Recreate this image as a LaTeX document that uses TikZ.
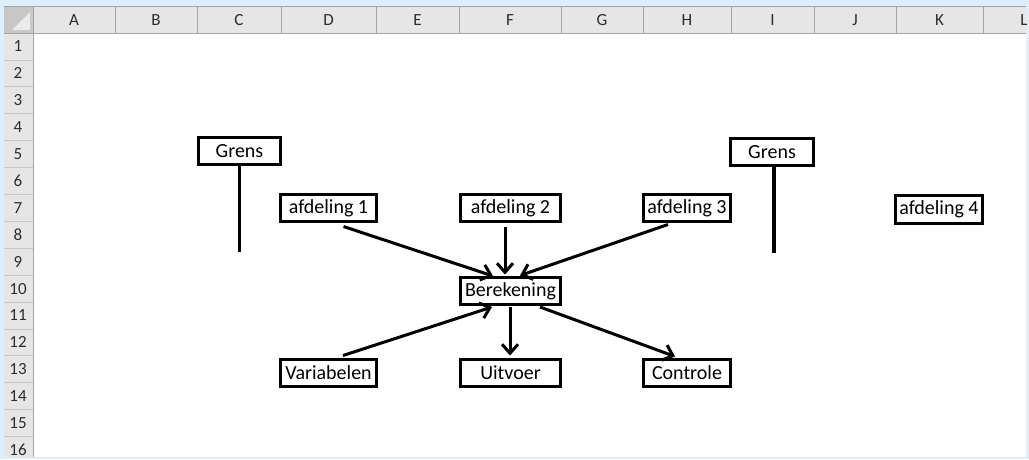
\documentclass[tikz,border=0pt]{standalone}
\usepackage{fontspec}
\setmainfont{Carlito}
\usetikzlibrary{arrows.meta,calc}
\definecolor{outerblue}{RGB}{221,239,251}
\definecolor{hdrfill}{RGB}{230,230,230}
\definecolor{hdrline}{RGB}{165,165,165}
\definecolor{rowline}{RGB}{200,200,200}
\definecolor{hdrtext}{RGB}{45,45,45}
\begin{document}
\begin{tikzpicture}[x=1pt,y=-1pt,
  hdrtxt/.style={text=hdrtext,font=\fontsize{17}{18}\selectfont,inner sep=0pt},
  box/.style={draw=black,line width=3.6pt,fill=white,inner sep=0pt,outer sep=0pt,
    minimum height=27pt,font=\fontsize{20}{22}\selectfont},
  arr/.style={line width=3pt,-{Straight Barb[length=9pt,width=16pt]}},
  bar/.style={line width=3.2pt}]
\useasboundingbox (0,0) rectangle (1029,459);
\fill[outerblue] (0,0) rectangle (1029,459);
\begin{scope}
\clip (4,6) rectangle (1026,457);
\fill[white] (4,6) rectangle (1026,457);
\fill[hdrfill] (4,6) rectangle (1026,33);
\fill[hdrfill] (4,33) rectangle (33,457);
\fill[black!22] (4,6) rectangle (33,33);
\fill[black!8] (30,12) -- (30,30) -- (12,30) -- cycle;
\foreach \x in {33,115,197,281,376,459,561,643,731,814,896,983}
  \draw[hdrline,line width=0.8pt] (\x,7) -- (\x,33);
\foreach \l/\x in {A/74,B/156,C/239,D/328.5,E/417.5,F/510,G/602,H/687,I/772.5,J/855,K/939.5,L/1024}
  \node[hdrtxt] at (\x,20) {\l};
\foreach \i in {1,...,16}{
  \node[hdrtxt] at (18,{33+(\i-0.5)*26.9}) {\i};
  \draw[rowline,line width=0.8pt] (4,{33+\i*26.9}) -- (33,{33+\i*26.9});
}
\draw[hdrline,line width=0.8pt] (4,33) -- (1026,33);
\draw[hdrline,line width=0.8pt] (33,6) -- (33,457);
\draw[hdrline,line width=0.6pt] (4,6.4) -- (1026,6.4);
\end{scope}

% nodes
\node[box,minimum width=82pt] (grensL) at (239.5,151) {Grens};
\node[box,minimum width=83pt] (grensR) at (772,152) {Grens};
\node[box,minimum width=96pt] (afd1) at (328.5,208) {afdeling 1};
\node[box,minimum width=100pt] (afd2) at (510.5,208) {afdeling 2};
\node[box,minimum width=87pt] (afd3) at (687,208) {afdeling 3};
\node[box,minimum width=87pt,minimum height=28pt] (afd4) at (939,209.5) {afdeling 4};
\node[box,minimum width=100pt] (bere) at (510.5,291) {Berekening};
\node[box,minimum width=96pt] (var) at (328.5,373) {Variabelen};
\node[box,minimum width=100pt] (uit) at (510.5,373) {Uitvoer};
\node[box,minimum width=87pt] (con) at (687,373) {Controle};

% boundary bars
\coordinate (gLend) at (239.5,252);
\coordinate (gRend) at (774,253);
\draw[bar] (grensL.south) -- (gLend);
\draw[bar] (grensR.south -| gRend) -- (gRend);

% arrows
\draw[arr] ($(afd1.south)+(15,5)$) -- ($(bere.north)+(-17.5,-1.5)$);
\draw[arr] ($(afd2.south)+(-5.5,5.5)$) -- ($(bere.north)+(-5.5,-3)$);
\draw[arr] ($(afd3.south)+(-19,3)$) -- ($(bere.north)+(9.5,-2)$);
\draw[arr] ($(var.north)+(14.5,-4)$) -- ($(bere.south)+(-18.5,2.5)$);
\draw[arr] ($(bere.south)+(-0.5,2.5)$) -- ($(uit.north)+(-0.5,-4)$);
\draw[arr] ($(bere.south)+(29.5,2.5)$) -- ($(con.north)+(-12,-3)$);
\end{tikzpicture}
\end{document}
